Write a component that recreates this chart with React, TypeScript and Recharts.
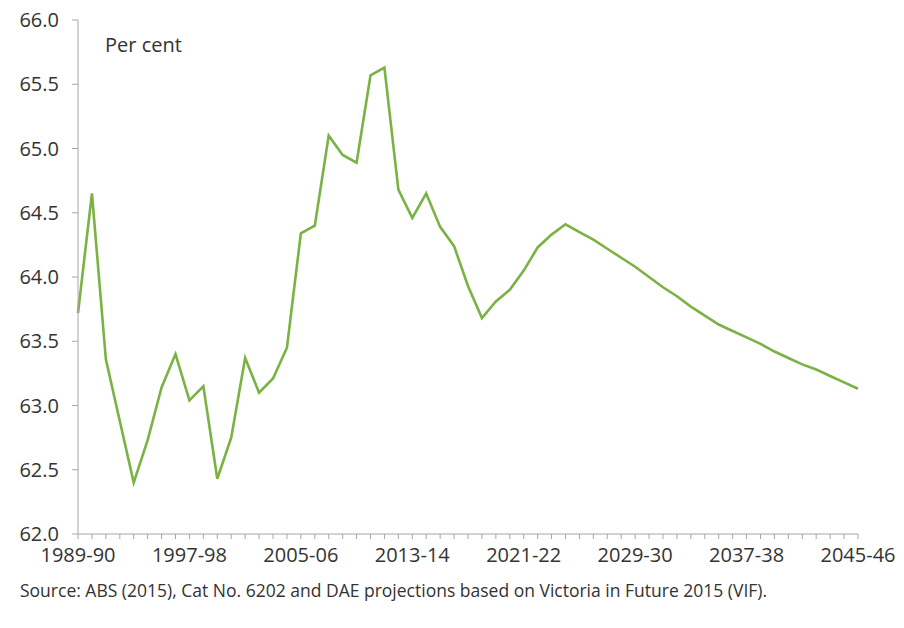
import { CartesianGrid, Line, LineChart, XAxis, YAxis } from "recharts";

const years = [
  "1989-90", "1990-91", "1991-92", "1992-93", "1993-94", "1994-95", "1995-96", "1996-97",
  "1997-98", "1998-99", "1999-00", "2000-01", "2001-02", "2002-03", "2003-04", "2004-05",
  "2005-06", "2006-07", "2007-08", "2008-09", "2009-10", "2010-11", "2011-12", "2012-13",
  "2013-14", "2014-15", "2015-16", "2016-17", "2017-18", "2018-19", "2019-20", "2020-21",
  "2021-22", "2022-23", "2023-24", "2024-25", "2025-26", "2026-27", "2027-28", "2028-29",
  "2029-30", "2030-31", "2031-32", "2032-33", "2033-34", "2034-35", "2035-36", "2036-37",
  "2037-38", "2038-39", "2039-40", "2040-41", "2041-42", "2042-43", "2043-44", "2044-45",
  "2045-46",
];

// participation rate, per cent
const rate = [
  63.72, 64.65, 63.36, 62.88, 62.4, 62.73, 63.14, 63.4, 63.04, 63.15,
  62.43, 62.75, 63.37, 63.1, 63.21, 63.45, 64.34, 64.4, 65.1, 64.95,
  64.89, 65.57, 65.63, 64.68, 64.46, 64.65, 64.39, 64.24, 63.93, 63.68,
  63.81, 63.9, 64.05, 64.23, 64.33, 64.41, 64.35, 64.29, 64.22, 64.15,
  64.08, 64.0, 63.92, 63.85, 63.77, 63.7, 63.63, 63.58, 63.53, 63.48,
  63.42, 63.37, 63.32, 63.28, 63.23, 63.18, 63.13,
];

const yTicks = [62, 62.5, 63, 63.5, 64, 64.5, 65, 65.5, 66];

const data = years.map((year, i) => ({ year, rate: rate[i] }));

const font = "'Open Sans', 'Noto Sans', sans-serif";
const textColor = "#333333";
const axisColor = "#a6a6a6";

function XTick(props: any) {
  const { x, y, payload, index } = props;
  if (index % 8 !== 0) return null;
  return (
    <text
      x={x}
      y={y}
      dy={19}
      textAnchor="middle"
      fill={textColor}
      fontSize={20}
      fontFamily={font}
    >
      {payload.value}
    </text>
  );
}

export default function App() {
  return (
    <div
      style={{
        position: "absolute",
        left: 0,
        top: 0,
        width: 904,
        height: 628,
        background: "#fff",
        fontFamily: font,
      }}
    >
      <LineChart
        width={904}
        height={574}
        data={data}
        margin={{ top: 20, right: 46, bottom: 0, left: 0 }}
      >
        <CartesianGrid stroke="none" />
        <XAxis
          dataKey="year"
          interval={0}
          tick={<XTick />}
          tickSize={5}
          tickMargin={4}
          height={40}
          stroke={axisColor}
          tickLine={{ stroke: axisColor }}
          padding={{ left: 0, right: 0 }}
        />
        <YAxis
          domain={[62, 66]}
          ticks={yTicks}
          width={78}
          tickSize={6}
          tickMargin={13}
          stroke={axisColor}
          tick={{ fill: textColor, fontSize: 20, fontFamily: font }}
          tickFormatter={(v: number) => v.toFixed(1)}
        />
        <Line
          type="linear"
          dataKey="rate"
          stroke="#7ab243"
          strokeWidth={2.6}
          dot={false}
          isAnimationActive={false}
        />
      </LineChart>
      <div
        style={{
          position: "absolute",
          left: 105,
          top: 31,
          fontSize: 20,
          color: textColor,
        }}
      >
        Per cent
      </div>
      <div
        style={{
          position: "absolute",
          left: 20,
          top: 578,
          fontSize: 17.5,
          color: textColor,
          whiteSpace: "nowrap",
        }}
      >
        Source: ABS (2015), Cat No. 6202 and DAE projections based on Victoria in Future 2015 (VIF).
      </div>
    </div>
  );
}
